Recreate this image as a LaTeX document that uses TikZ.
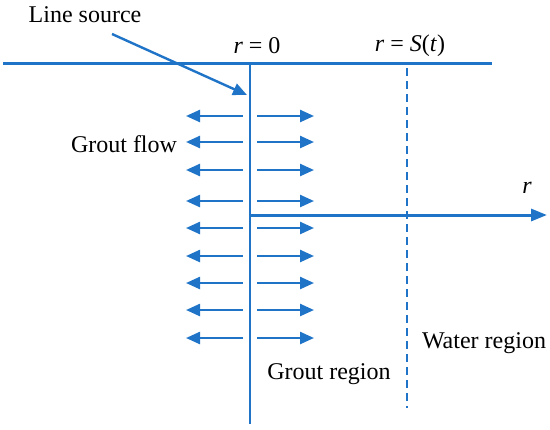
\documentclass[tikz,border=0pt]{standalone}
\usepackage{fontspec}
\setmainfont{Liberation Serif}
\usetikzlibrary{arrows.meta}
\definecolor{lineblue}{RGB}{31,116,200}
\tikzset{
  lbl/.style={font=\fontsize{12}{14}\selectfont, inner sep=0pt, text=black},
  flow/.style={lineblue, line width=1.2pt, -{Triangle[length=7pt,width=6pt]}},
  axis/.style={lineblue, line width=1.5pt, -{Triangle[length=8pt,width=6pt]}},
}
\begin{document}
\begin{tikzpicture}[x=0.5pt,y=-0.5pt]
\useasboundingbox (0,0) rectangle (550,429);
% coordinates
\coordinate (tl) at (3,63);
\coordinate (tr) at (492,63);
\coordinate (vt) at (250,63);
\coordinate (vb) at (250,424);
\coordinate (dt) at (407,68);
\coordinate (db) at (407,408);
\coordinate (ax0) at (250,215);
\coordinate (ax1) at (547,215);
\coordinate (ls0) at (112,34);
\coordinate (ls1) at (247,95);
% texts
\node[lbl] (linesrc) at (85,15) {Line source};
\node[lbl] (r0) at (257,46) {\textit{r} = 0};
\node[lbl] (rs) at (410,46) {\textit{r} = \textit{S}(\textit{t})};
\node[lbl] (rl) at (527,188) {\textit{r}};
\node[lbl] (gf) at (124,144) {Grout flow};
\node[lbl] (gr) at (329,374) {Grout region};
\node[lbl] (wr) at (484,343) {Water region};
% lines
\draw[lineblue, line width=1.5pt] (tl) -- (tr);
\draw[lineblue, line width=1pt] (vt) -- (vb);
\draw[lineblue, line width=0.8pt, dash pattern=on 4pt off 2.5pt] (dt) -- (db);
\draw[axis] (ax0) -- (ax1);
\draw[lineblue, line width=1.2pt, -{Triangle[length=7pt,width=6pt]}] (ls0) -- (ls1);
% flow arrows
\foreach \yy [count=\i] in {116,142,170,201,228,256,283,310,338} {
  \coordinate (fl\i a) at (243,\yy);
  \coordinate (fl\i b) at (186,\yy);
  \coordinate (fr\i a) at (257,\yy);
  \coordinate (fr\i b) at (314,\yy);
  \draw[flow] (fl\i a) -- (fl\i b);
  \draw[flow] (fr\i a) -- (fr\i b);
}
\end{tikzpicture}
\end{document}
